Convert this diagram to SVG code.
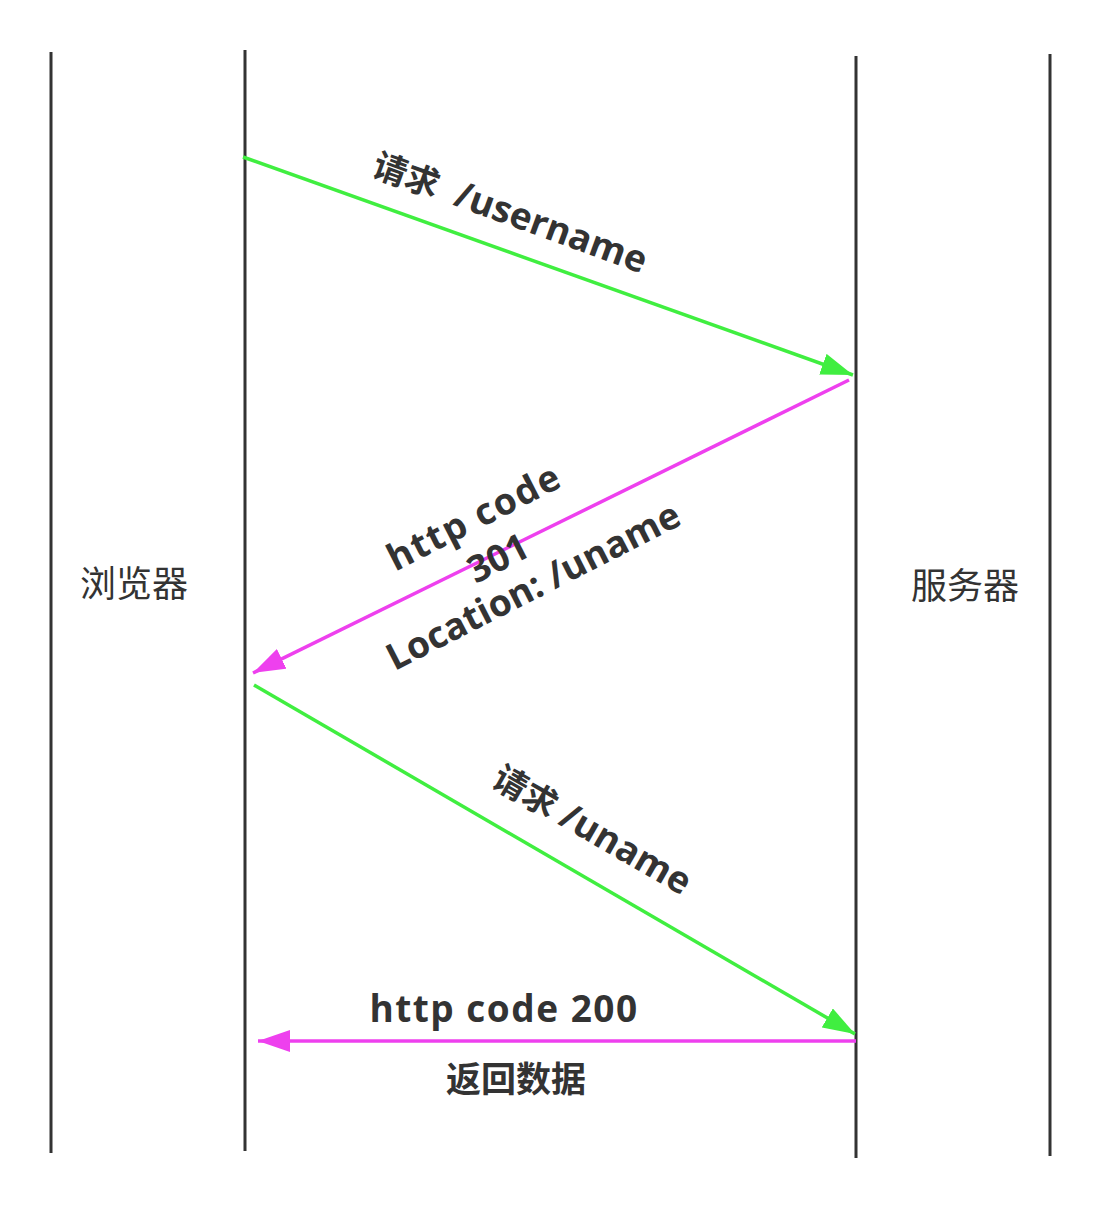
<svg xmlns="http://www.w3.org/2000/svg" width="1100" height="1208" viewBox="0 0 1100 1208">
<style>
.life{stroke:#333333;stroke-width:3;fill:none}
.g{stroke:#40ee40;stroke-width:3.5;fill:none}
.m{stroke:#ee40ee;stroke-width:3.5;fill:none}
.lbl{font-family:"Open Sans","Noto Sans CJK SC",sans-serif;font-weight:bold;font-size:37px;fill:#333333;text-anchor:middle;white-space:pre}
.sp{letter-spacing:1.5px}
.cjk{font-family:"Noto Sans CJK SC",sans-serif;font-size:34px}
.actor{font-family:"Noto Sans CJK SC",sans-serif;font-size:36px;fill:#333333;text-anchor:middle}
</style>
<defs>
<marker id="ag" viewBox="0 -11 32 22" markerWidth="32" markerHeight="22" refX="32" refY="0" orient="auto" markerUnits="userSpaceOnUse"><path d="M0,-11 L32,0 L0,11 z" fill="#40ee40"/></marker>
<marker id="am" viewBox="0 -11 32 22" markerWidth="32" markerHeight="22" refX="32" refY="0" orient="auto" markerUnits="userSpaceOnUse"><path d="M0,-11 L32,0 L0,11 z" fill="#ee40ee"/></marker>
</defs>
<rect width="1100" height="1208" fill="#ffffff"/>
<g id="browser-outer"><line class="life" x1="51" y1="52" x2="51" y2="1153"/></g>
<g id="browser"><line class="life" x1="245" y1="50" x2="245" y2="1151"/><text class="actor" x="134" y="597">浏览器</text></g>
<g id="server"><line class="life" x1="856" y1="56" x2="856" y2="1158"/><text class="actor" x="965" y="599">服务器</text></g>
<g id="server-outer"><line class="life" x1="1050" y1="54" x2="1050" y2="1156"/></g>
<g id="connectors">
<line class="g" x1="243" y1="157" x2="853" y2="375" marker-end="url(#ag)"/>
<line class="m" x1="849" y1="380" x2="253" y2="673" marker-end="url(#am)"/>
<line class="g" x1="254" y1="685" x2="855" y2="1034" marker-end="url(#ag)"/>
<line class="m" x1="856" y1="1041" x2="258" y2="1041" marker-end="url(#am)"/>
</g>
<g id="labels">
<text class="lbl" transform="translate(510,213) rotate(20)" y="12"><tspan class="cjk">请求</tspan>  /username</text>
<text class="lbl sp" transform="translate(474,517) rotate(-27)" y="13">http code</text>
<text class="lbl" transform="translate(498,558) rotate(-27)" y="13">301</text>
<text class="lbl" transform="translate(533,586) rotate(-27)" y="13">Location: /uname</text>
<text class="lbl" transform="translate(592,830) rotate(30)" y="12"><tspan class="cjk">请求</tspan> /uname</text>
<text class="lbl sp" x="504" y="1022">http code 200</text>
<text class="lbl cjk" x="516" y="1092" style="font-size:35px">返回数据</text>
</g>
</svg>
